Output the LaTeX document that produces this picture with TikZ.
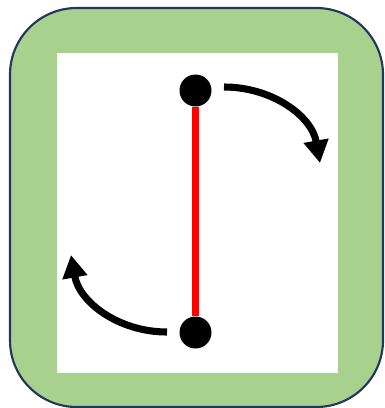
\documentclass[tikz,border=0pt]{standalone}
\usepackage{xcolor}
\usepackage{tikz}
\usetikzlibrary{arrows.meta}
\definecolor{frame}{RGB}{169, 209, 142}
\definecolor{edge}{RGB}{31, 56, 92}
\definecolor{rod}{RGB}{255, 0, 0}

\begin{document}
\begin{tikzpicture}[x=0.75pt,y=-0.75pt,
  joint/.style={circle,fill=black,inner sep=0pt,minimum size=24pt},
  turn/.style={line width=5.3pt,-{Triangle[length=17pt,width=18pt]}}]
\useasboundingbox (0,0) rectangle (385,408);
\draw[fill=frame,draw=edge,line width=1.6pt,rounded corners=50pt] (10,8) rectangle (383,407);
\fill[white] (57,53) rectangle (338,373);
\node[joint] (top) at (195.5,90.5) {};
\node[joint] (bot) at (195.5,332.5) {};
\draw[rod,line width=5.5pt] (top) -- (bot);
\coordinate (s1) at (224,87);
\coordinate (e1) at (320,163);
\coordinate (s2) at (167,332);
\coordinate (e2) at (71,255);
\draw[turn] (s1) to[out=0,in=100] (e1);
\draw[turn] (s2) to[out=180,in=-80] (e2);
\end{tikzpicture}
\end{document}
